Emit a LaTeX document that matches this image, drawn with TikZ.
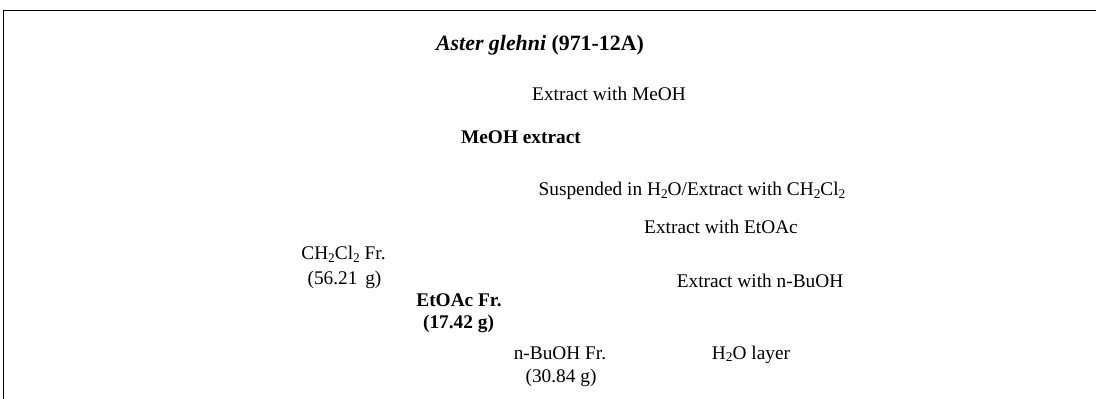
\documentclass[tikz,border=0pt]{standalone}
\usepackage{fontspec}
\setmainfont{Liberation Serif}
\newcommand{\lowsub}[1]{\raisebox{-0.32ex}{\fontsize{10}{10}\selectfont #1}}
\begin{document}
\begin{tikzpicture}[x=0.75pt,y=-0.75pt,
  lbl/.style={anchor=base,inner sep=0pt,outer sep=0pt,font=\fontsize{14.5}{17}\selectfont},
  blbl/.style={lbl,font=\fontsize{14.5}{17}\selectfont\bfseries},
  ttl/.style={lbl,font=\fontsize{16.4}{19}\selectfont\bfseries},
  frame/.style={line width=1.4pt,line cap=rect}]
\useasboundingbox (0,0) rectangle (1097,399);
\draw[frame] (3.5,399) -- (3.5,10.5) -- (1095,10.5);
\node[ttl] (plant) at (540,51) {\textit{Aster glehni} (971-12A)};
\node[lbl] (s1) at (609,101) {Extract with MeOH};
\node[blbl] (meoh) at (521,144) {MeOH extract};
\node[lbl] (s2) at (692,196) {Suspended in H\lowsub{2}O/Extract with CH\lowsub{2}Cl\lowsub{2}};
\node[lbl] (s3) at (721,234) {Extract with EtOAc};
\node[lbl] (dcm) at (343.5,260) {CH\lowsub{2}Cl\lowsub{2} Fr.};
\node[lbl] (dcmw) at (344.5,285) {(56.21\hspace{0.15em} g)};
\node[lbl] (s4) at (760,288) {Extract with n-BuOH};
\node[blbl] (ea) at (459,306) {EtOAc Fr.};
\node[blbl] (eaw) at (458.5,329) {(17.42 g)};
\node[lbl] (bu) at (560,359) {n-BuOH Fr.};
\node[lbl] (buw) at (561,382) {(30.84 g)};
\node[lbl] (water) at (751,359) {H\lowsub{2}O layer};
\end{tikzpicture}
\end{document}
